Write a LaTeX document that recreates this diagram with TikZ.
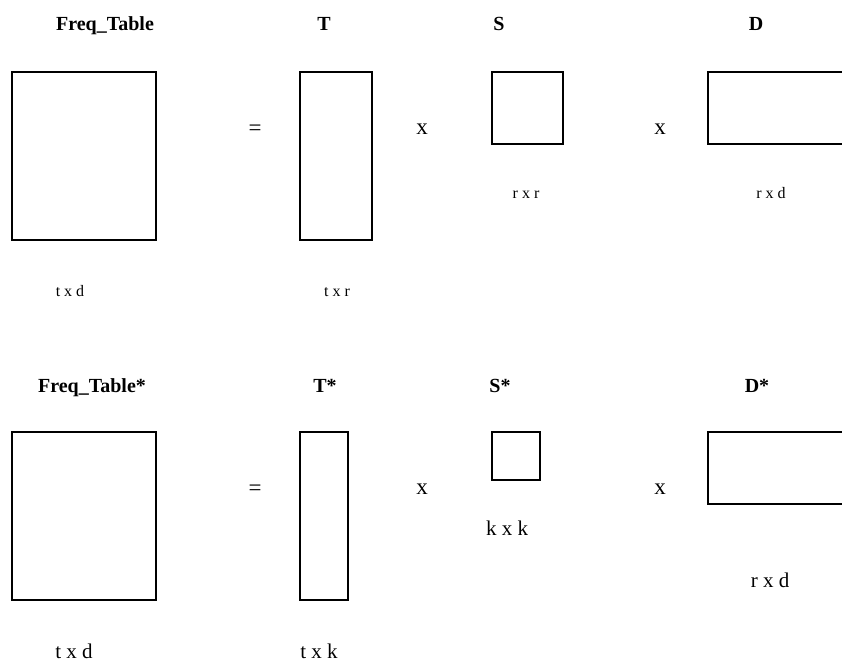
\documentclass[tikz,border=0pt]{standalone}
\usepackage{fontspec}
\setmainfont{Liberation Serif}
\begin{document}
\begin{tikzpicture}[x=1pt,y=-1pt,
  mat/.style={draw=black,line width=1.4pt,fill=none,inner sep=0pt,outer sep=0pt,anchor=north west},
  ttl/.style={font=\fontsize{20}{22}\selectfont\bfseries,inner sep=0pt,anchor=base},
  op/.style={font=\fontsize{23}{25}\selectfont,inner sep=0pt,anchor=base},
  smalllbl/.style={font=\fontsize{16}{18}\selectfont,inner sep=0pt,anchor=base},
  biglbl/.style={font=\fontsize{21}{23}\selectfont,inner sep=0pt,anchor=base}]
\clip (0,0) rectangle (842,661);
\fill[white] (0,0) rectangle (842,661);
% top row
\node[ttl] (t1) at (105,31) {Freq\_Table};
\node[ttl] (t2) at (324,31) {T};
\node[ttl] (t3) at (499,31) {S};
\node[ttl] (t4) at (756,31) {D};
\node[mat,minimum width=144pt,minimum height=168pt] (A) at (12,72) {};
\node[op] (eq1) at (255,135) {=};
\node[mat,minimum width=72pt,minimum height=168pt] (T) at (300,72) {};
\node[op] (x1) at (422,134) {x};
\node[mat,minimum width=71pt,minimum height=72pt] (S) at (492,72) {};
\node[op] (x2) at (660,134) {x};
\node[mat,minimum width=160pt,minimum height=72pt] (D) at (708,72) {};
\node[smalllbl] (l1) at (526,198) {r x r};
\node[smalllbl] (l2) at (771,198) {r x d};
\node[smalllbl] (l3) at (70,296) {t x d};
\node[smalllbl] (l4) at (337,296) {t x r};
% bottom row
\node[ttl] (b1) at (92,392) {Freq\_Table*};
\node[ttl] (b2) at (325,392) {T*};
\node[ttl] (b3) at (500,392) {S*};
\node[ttl] (b4) at (757,392) {D*};
\node[mat,minimum width=144pt,minimum height=168pt] (A2) at (12,432) {};
\node[op] (eq2) at (255,495) {=};
\node[mat,minimum width=48pt,minimum height=168pt] (T2) at (300,432) {};
\node[op] (x3) at (422,494) {x};
\node[mat,minimum width=48pt,minimum height=48pt] (S2) at (492,432) {};
\node[op] (x4) at (660,494) {x};
\node[mat,minimum width=160pt,minimum height=72pt] (D2) at (708,432) {};
\node[biglbl] (m1) at (507,535) {k x k};
\node[biglbl] (m2) at (770,587) {r x d};
\node[biglbl] (m3) at (74,658) {t x d};
\node[biglbl] (m4) at (319,658) {t x k};
\end{tikzpicture}
\end{document}
